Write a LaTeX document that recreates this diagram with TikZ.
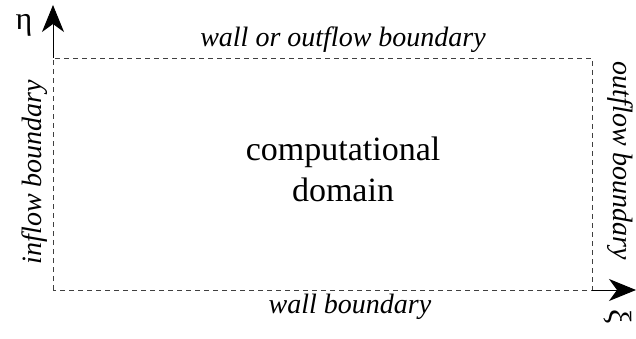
\documentclass[tikz,border=0pt]{standalone}
\usepackage{fontspec}
\setmainfont{Liberation Serif}
\usetikzlibrary{arrows.meta}
\begin{document}
\begin{tikzpicture}[x=1pt,y=-1pt,
  edge/.style={dash pattern=on 5pt off 4pt, line width=0.9pt, black!75},
  axis/.style={line width=1pt, -{Stealth[length=27pt,width=22pt,inset=8pt]}},
  lbl/.style={font=\fontsize{28}{32}\selectfont\itshape, inner sep=0pt},
  sym/.style={font=\fontsize{32}{36}\selectfont, inner sep=0pt},
]
\useasboundingbox (0,0) rectangle (636,339);
% corners of the domain
\coordinate (O)  at (53,290);
\coordinate (TL) at (53,58);
\coordinate (TR) at (592,58);
\coordinate (BR) at (592,290);
\coordinate (ytip) at (53,5);
\coordinate (xtip) at (636,290);
% dashed boundary
\draw[edge] (O) -- (TL) -- (TR) -- (BR) -- (O);
% coordinate axes
\draw[axis] (TL) -- (ytip);
\draw[axis] (BR) -- (xtip);
% axis names
\node[sym, anchor=base] (eta) at (24,30) {η};
\node[sym, anchor=north, rotate=-90] (xi) at (632,317) {ξ};
% boundary labels
\node[lbl, anchor=base] (top) at (343,47) {wall or outflow boundary};
\node[lbl, anchor=base] (bottom) at (350,313) {wall boundary};
\node[lbl, anchor=base, rotate=90] (left) at (41,172) {inflow boundary};
\node[lbl, anchor=base, rotate=-90] (right) at (613,161) {outflow boundary};
% domain name
\node[font=\fontsize{34}{41}\selectfont, align=center, inner sep=0pt] (dom) at (343,169) {computational\\domain};
\end{tikzpicture}
\end{document}
